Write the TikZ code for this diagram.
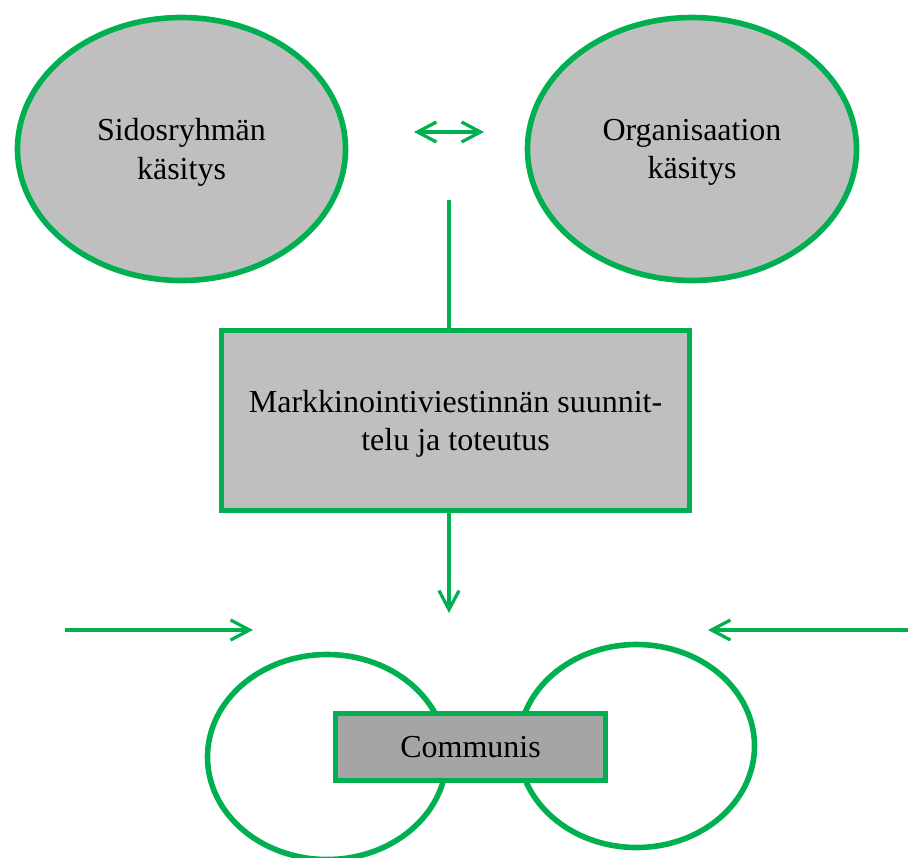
\documentclass[tikz,border=0pt]{standalone}
\usepackage{fontspec}
\setmainfont{Liberation Serif}
\usetikzlibrary{arrows.meta,positioning,shapes.geometric}
\definecolor{kgreen}{HTML}{00B050}
\definecolor{kgray}{HTML}{BFBFBF}
\definecolor{kdark}{HTML}{A5A5A5}
\tikzset{
  >={Straight Barb[length=9.5pt,width=10pt]},
  view/.style ={draw=kgreen,fill=kgray,ellipse,line width=2.8pt,align=center,
                font=\fontsize{16}{19.3}\selectfont,inner sep=0pt,text depth=0pt},
  ring/.style ={draw=kgreen,ellipse,line width=2.8pt,inner sep=0pt},
  plan/.style ={draw=kgreen,fill=kgray,rectangle,line width=2.8pt,align=center,
                font=\fontsize{16}{19.3}\selectfont,inner sep=0pt,text depth=0pt},
  core/.style ={plan,fill=kdark},
  link/.style ={draw=kgreen,line width=1.6pt},
}
\begin{document}
\begin{tikzpicture}[x=0.5pt,y=-0.5pt]
  \useasboundingbox (0,0) rectangle (908,857);
  \clip (0,0) rectangle (908,857);
  % two views on top
  \node[view,minimum width=164pt,minimum height=131.5pt] (sido) at (181.5,149) {Sidosryhmän\\käsitys};
  \node[view,minimum width=164.5pt,minimum height=131.5pt] (org) at (692,149) {Organisaation\\käsitys};
  \coordinate (swapl) at (414,132);
  \coordinate (swapr) at (484,132);
  \draw[link,<->] (swapl) -- (swapr);
  % planning box
  \coordinate (stem) at (449,200);
  \draw[link] (stem) -- (stem |- 0,330);
  \node[plan,minimum width=234pt,minimum height=90pt] (mark) at (455.5,420.5)
    {Markkinointiviestinnän suunnit-\\telu ja toteutus};
  \coordinate (drop) at (449,613);
  \draw[link,->] (mark.south -| drop) -- (drop);
  % side inputs
  \coordinate (inl) at (65,630);
  \coordinate (inlend) at (253,630);
  \draw[link,->] (inl) -- (inlend);
  \coordinate (inr) at (908,630);
  \coordinate (inrend) at (708,630);
  \draw[link,->] (inr) -- (inrend);
  % communis
  \node[ring,minimum width=119.5pt,minimum height=102.5pt] (ringl) at (327,757) {};
  \node[ring,minimum width=118pt,minimum height=101.5pt] (ringr) at (636.5,746) {};
  \node[core,minimum width=135pt,minimum height=33.5pt] (comm) at (470.5,747) {Communis};
\end{tikzpicture}
\end{document}
